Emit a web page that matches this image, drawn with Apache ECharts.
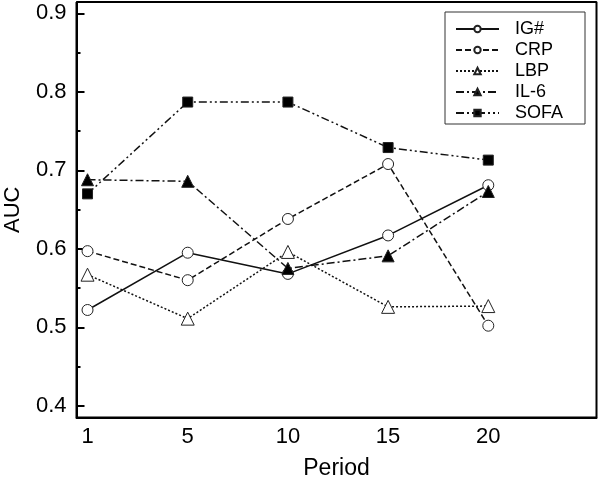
<!DOCTYPE html>
<html>
<head>
<meta charset="utf-8">
<script src="https://cdn.jsdelivr.net/npm/echarts@6/dist/echarts.min.js"></script>
<style>html,body{margin:0;padding:0;background:#fff}#c{width:600px;height:478px}</style>
</head>
<body>
<div id="c"></div>
<script>
var periods = ['1', '5', '10', '15', '20'];
var yTicks = [0.4, 0.5, 0.6, 0.7, 0.8, 0.9];
var yMinorTicks = [0.45, 0.55, 0.65, 0.75, 0.85];
var igValues = [0.522, 0.595, 0.568, 0.617, 0.681];
var crpValues = [0.597, 0.560, 0.638, 0.708, 0.502];
var lbpValues = [0.567, 0.511, 0.596, 0.526, 0.527];
var il6Values = [0.688, 0.686, 0.575, 0.591, 0.673];
var sofaValues = [0.670, 0.787, 0.787, 0.729, 0.713];

function pts(vals) { return vals.map(function (v, i) { return [i, v]; }); }
var FONT = 'Liberation Sans, Arial, sans-serif';
var YMIN = 0.385, YMAX = 0.9145, XMIN = -0.11, XMAX = 5.08;

function mk(name, vals, symbol, size, fill, dash) {
  return {
    name: name, type: 'line', data: pts(vals),
    symbol: symbol, symbolSize: size,
    lineStyle: { color: '#111', width: 1.5, type: dash },
    itemStyle: { color: fill, borderColor: '#222', borderWidth: 1 },
    emphasis: { disabled: true },
    animation: false, z: 3
  };
}

var chart = echarts.init(document.getElementById('c'));
chart.setOption({
  animation: false,
  grid: { left: 76.5, right: 3.5, top: 2, bottom: 60.5, containLabel: false, outerBoundsMode: 'none' },
  legend: {
    orient: 'vertical', left: 445, top: 12,
    padding: [8, 22, 2, 10], itemGap: 3, itemWidth: 43, itemHeight: 8,
    borderColor: '#333', borderWidth: 1, backgroundColor: '#fff',
    textStyle: { fontFamily: FONT, fontSize: 18, color: '#000', padding: [0, 0, 0, 11] },
    data: ['IG#', 'CRP', 'LBP', 'IL-6', 'SOFA']
  },
  xAxis: {
    type: 'value', min: XMIN, max: XMAX, position: 'bottom',
    name: 'Period', nameLocation: 'middle', nameGap: 40,
    nameTextStyle: { fontFamily: FONT, fontSize: 23, color: '#000' },
    axisLine: { show: true, onZero: false, lineStyle: { color: '#000', width: 2 } },
    axisTick: { show: false }, splitLine: { show: false },
    axisLabel: {
      customValues: [0, 1, 2, 3, 4], margin: 8,
      fontFamily: FONT, fontSize: 22, color: '#000',
      formatter: function (v) { return periods[Math.round(v)]; }
    }
  },
  yAxis: [{
    type: 'value', min: YMIN, max: YMAX, position: 'left', offset: 0,
    name: 'AUC', nameLocation: 'middle', nameGap: 53,
    nameTextStyle: { fontFamily: FONT, fontSize: 22, color: '#000' },
    axisLine: { show: true, onZero: false, lineStyle: { color: '#000', width: 2 } },
    splitLine: { show: false },
    axisTick: { show: true, inside: true, length: 8, customValues: yTicks, lineStyle: { color: '#000', width: 2 } },
    axisLabel: { customValues: yTicks, margin: 10, fontFamily: FONT, fontSize: 22, color: '#000',
      formatter: function (v) { return v.toFixed(1); } }
  }, {
    type: 'value', min: YMIN, max: YMAX, position: 'left', offset: 0,
    axisLine: { show: false, onZero: false }, splitLine: { show: false },
    axisTick: { show: true, inside: true, length: 4, customValues: yMinorTicks, lineStyle: { color: '#000', width: 2 } },
    axisLabel: { show: false }
  }],
  series: [
    mk('IG#', igValues, 'circle', 11, '#fff', 'solid'),
    mk('CRP', crpValues, 'circle', 11, '#fff', [6, 3]),
    mk('LBP', lbpValues, 'triangle', 13, '#fff', [2, 2]),
    mk('IL-6', il6Values, 'triangle', 12, '#000', [8, 3, 2, 3]),
    mk('SOFA', sofaValues, 'rect', 10, '#000', [8, 3, 2, 3, 2, 3]),
    {
      name: 'frame', type: 'line', clip: false, silent: true, symbol: 'none', z: 10,
      data: [[XMIN, YMAX], [XMAX, YMAX], [XMAX, YMIN], [XMIN, YMIN], [XMIN, YMAX]],
      lineStyle: { color: '#000', width: 2, type: 'solid' },
      itemStyle: { color: '#000' }, emphasis: { disabled: true }, tooltip: { show: false }
    }
  ]
});
</script>
</body>
</html>
